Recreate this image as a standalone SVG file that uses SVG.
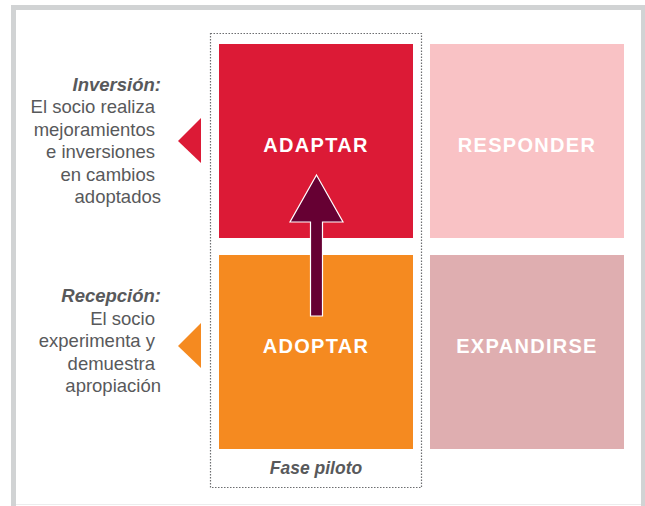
<svg xmlns="http://www.w3.org/2000/svg" width="645" height="506" viewBox="0 0 645 506">
<defs>
<style>
.side{font-family:"Liberation Sans",Arial,sans-serif;font-size:18.5px;fill:#58595b;text-anchor:end}
.head{font-style:italic;font-weight:bold}
.lbl{font-family:"Liberation Sans",Arial,sans-serif;font-size:20px;font-weight:bold;fill:#ffffff;text-anchor:middle;letter-spacing:1.3px}
.fase{font-family:"Liberation Sans",Arial,sans-serif;font-size:17.5px;font-style:italic;font-weight:bold;fill:#58595b;text-anchor:middle}
</style>
</defs>
<rect x="0" y="0" width="645" height="506" fill="#ffffff"/>
<rect x="11" y="5" width="634" height="501" fill="#d1d3d4"/>
<rect x="16" y="10" width="625" height="496" fill="#ffffff"/>
<rect x="16" y="504" width="625" height="1" fill="#ececed"/>
<g id="pilot">
<rect x="210.5" y="33.5" width="211" height="454" fill="none" stroke="#6d6e71" stroke-width="1.2" stroke-dasharray="1.5,1.5"/>
<text class="fase" x="316" y="474">Fase piloto</text>
</g>
<g id="adaptar">
<rect x="219" y="44" width="194" height="194" fill="#dc1a36"/>
<text class="lbl" x="316" y="152">ADAPTAR</text>
</g>
<g id="responder">
<rect x="430" y="44" width="194" height="194" fill="#f9c2c5"/>
<text class="lbl" x="527" y="152">RESPONDER</text>
</g>
<g id="adoptar">
<rect x="219" y="255" width="194" height="194" fill="#f58a20"/>
<text class="lbl" x="316" y="353">ADOPTAR</text>
</g>
<g id="expandirse">
<rect x="430" y="255" width="194" height="194" fill="#dfaeb0"/>
<text class="lbl" x="527" y="353">EXPANDIRSE</text>
</g>
<g id="inversion">
<polygon points="178,141 201,118 201,163" fill="#dc1a36"/>
<text class="side head" x="161" y="91">Inversión:</text>
<text class="side" x="155" y="113">El socio realiza</text>
<text class="side" x="155" y="136">mejoramientos</text>
<text class="side" x="155" y="158">e inversiones</text>
<text class="side" x="155" y="181">en cambios</text>
<text class="side" x="161" y="203">adoptados</text>
</g>
<g id="recepcion">
<polygon points="178,346 201,323 201,368" fill="#f58a20"/>
<text class="side head" x="161" y="302">Recepción:</text>
<text class="side" x="155" y="325">El socio</text>
<text class="side" x="155" y="347">experimenta y</text>
<text class="side" x="155" y="370">demuestra</text>
<text class="side" x="161" y="392">apropiación</text>
</g>
<g id="connectors">
<polygon points="316.5,175 343,222 322.5,222 322.5,316 310.5,316 310.5,222 290,222" fill="#660033" stroke="#ffffff" stroke-width="1.2" stroke-linejoin="miter"/>
</g>
</svg>
